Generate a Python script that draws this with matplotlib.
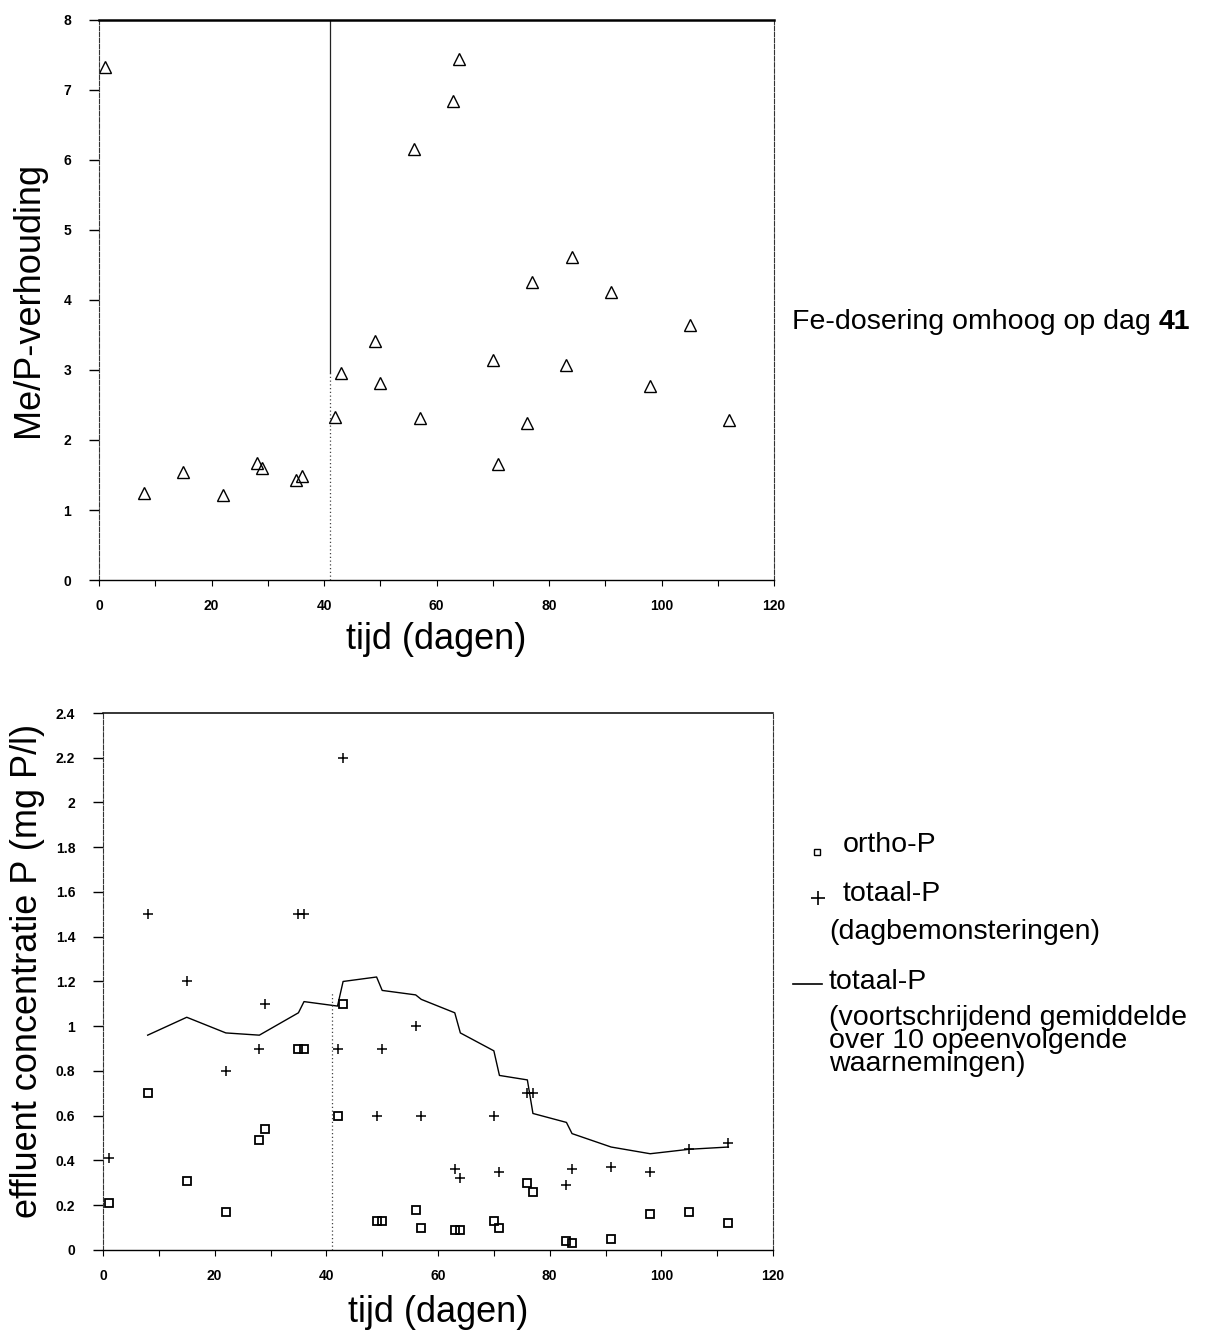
import matplotlib
matplotlib.use("Agg")
from matplotlib import pyplot as plt
from matplotlib.lines import Line2D
from matplotlib.ticker import MultipleLocator, FuncFormatter
import numpy as np

plt.rcParams['font.family'] = ['Liberation Sans', 'DejaVu Sans']

# sampling days (same for both panels)
days = [1, 8, 15, 22, 28, 29, 35, 36, 42, 43, 49, 50, 56, 57,
        63, 64, 70, 71, 76, 77, 83, 84, 91, 98, 105, 112]

# Me/P ratio per sample
me_p = [7.33, 1.24, 1.54, 1.21, 1.67, 1.60, 1.43, 1.49, 2.33, 2.96, 3.41, 2.81, 6.16, 2.31,
        6.84, 7.44, 3.14, 1.66, 2.24, 4.26, 3.07, 4.61, 4.11, 2.77, 3.64, 2.29]

# effluent concentrations (mg P/l)
ortho_p = [0.21, 0.70, 0.31, 0.17, 0.49, 0.54, 0.90, 0.90, 0.60, 1.10, 0.13, 0.13, 0.18, 0.10,
           0.09, 0.09, 0.13, 0.10, 0.30, 0.26, 0.04, 0.03, 0.05, 0.16, 0.17, 0.12]
totaal_p = [0.41, 1.50, 1.20, 0.80, 0.90, 1.10, 1.50, 1.50, 0.90, 2.20, 0.60, 0.90, 1.00, 0.60,
            0.36, 0.32, 0.60, 0.35, 0.70, 0.70, 0.29, 0.36, 0.37, 0.35, 0.45, 0.48]

# moving average of totaal-P (10 successive observations)
avg_days = [8, 15, 22, 28, 35, 36, 42, 43, 49, 50, 56, 57, 63, 64,
            70, 71, 76, 77, 83, 84, 91, 98, 105, 112]
avg_p = [0.96, 1.04, 0.97, 0.96, 1.06, 1.11, 1.09, 1.20, 1.22, 1.16, 1.14, 1.12, 1.06, 0.97,
         0.89, 0.78, 0.76, 0.61, 0.57, 0.52, 0.46, 0.43, 0.45, 0.46]

dose_day = 41

fig = plt.figure(figsize=(12.06, 13.30), dpi=100)
ax1 = fig.add_axes([0.0821, 0.5639, 0.5597, 0.4211])
ax2 = fig.add_axes([0.0854, 0.0602, 0.5556, 0.4037])


def style_axes(ax, top_lw):
    ax.spines['top'].set_linewidth(top_lw)
    ax.spines['bottom'].set_linewidth(1.0)
    for side in ['left', 'right']:
        ax.spines[side].set_linewidth(0.8)
        ax.spines[side].set_linestyle((0, (4, 1.5)))
        ax.spines[side].set_color('#333333')
    ax.xaxis.set_major_locator(MultipleLocator(20))
    ax.xaxis.set_minor_locator(MultipleLocator(10))
    ax.tick_params(axis='x', which='both', direction='out', length=4, width=0.8,
                   pad=10, labelsize=10)
    ax.tick_params(axis='y', direction='out', length=7, width=1.0, pad=13, labelsize=10)
    ax.tick_params(top=False, right=False)
    for lab in ax.get_xticklabels() + ax.get_yticklabels():
        lab.set_fontweight('bold')
    ax.set_xlim(0, 120)


# -- top panel: Me/P ratio
ax1.plot(days, me_p, linestyle='none', marker='^', ms=8, mfc='none', mec='black', mew=1.0)
ax1.axvline(dose_day, ymin=0.37, ymax=1, color='#222222', lw=0.9)
ax1.axvline(dose_day, ymin=0, ymax=0.37, color='#444444', lw=0.9, linestyle=(0, (1, 2)))
ax1.set_ylim(0, 8)
ax1.yaxis.set_major_locator(MultipleLocator(1))
style_axes(ax1, 1.8)
ax1.set_ylabel('Me/P-verhouding', fontsize=26, va='center')
ax1.yaxis.set_label_coords(-0.105, 0.5)
ax1.set_xlabel('tijd (dagen)', fontsize=26, va='center')
ax1.xaxis.set_label_coords(0.5, -0.107)

t = fig.text(0.6567, 0.758, 'Fe-dosering omhoog op dag ', fontsize=20.5, ha='left', va='center')
fig.canvas.draw()
ax1.annotate(str(dose_day), xy=(1, 0.5), xycoords=t, fontsize=20.5, fontweight='bold',
             ha='left', va='center')

# -- bottom panel: effluent P
ax2.plot(avg_days, avg_p, color='black', lw=1.0)
ax2.plot(days, ortho_p, linestyle='none', marker='s', ms=6, mfc='none', mec='black', mew=1.3)
ax2.plot(days, totaal_p, linestyle='none', marker='+', ms=7, mec='black', mew=1.1)
ax2.axvline(dose_day, ymin=0, ymax=0.48, color='#444444', lw=0.9, linestyle=(0, (1, 2)))
ax2.set_ylim(0, 2.4)
ax2.yaxis.set_major_locator(MultipleLocator(0.2))
ax2.yaxis.set_major_formatter(FuncFormatter(lambda v, p: '%g' % round(v, 1)))
style_axes(ax2, 1.1)
ax2.set_ylabel('effluent concentratie P (mg P/l)', fontsize=26, va='center')
ax2.yaxis.set_label_coords(-0.112, 0.52)
ax2.set_xlabel('tijd (dagen)', fontsize=26, va='center')
ax2.xaxis.set_label_coords(0.5, -0.117)

# legend drawn by hand in figure coordinates
H, W = 1330.0, 1206.0


def fx(px):
    return px / W


def fy(py):
    return 1 - py / H


fig.add_artist(Line2D([fx(817)], [fy(852)], marker='s', ms=4.5, mfc='none', mec='black',
                      mew=1.0, transform=fig.transFigure))
fig.add_artist(Line2D([fx(818)], [fy(898)], marker='+', ms=10, mec='black', mew=1.2,
                      transform=fig.transFigure))
fig.add_artist(Line2D([fx(793), fx(822)], [fy(984), fy(984)], color='black', lw=1.2,
                      transform=fig.transFigure))

fig.text(fx(843), fy(845), 'ortho-P', fontsize=20.5, ha='left', va='center')
fig.text(fx(843), fy(894), 'totaal-P', fontsize=20.5, ha='left', va='center')
fig.text(fx(829), fy(932), '(dagbemonsteringen)', fontsize=20.5, ha='left', va='center')
fig.text(fx(829), fy(982), 'totaal-P', fontsize=20.5, ha='left', va='center')
fig.text(fx(829), fy(1005), '(voortschrijdend gemiddelde\nover 10 opeenvolgende\nwaarnemingen)',
         fontsize=20.5, ha='left', va='top', linespacing=0.86)

fig.savefig('out.png', dpi=100)
